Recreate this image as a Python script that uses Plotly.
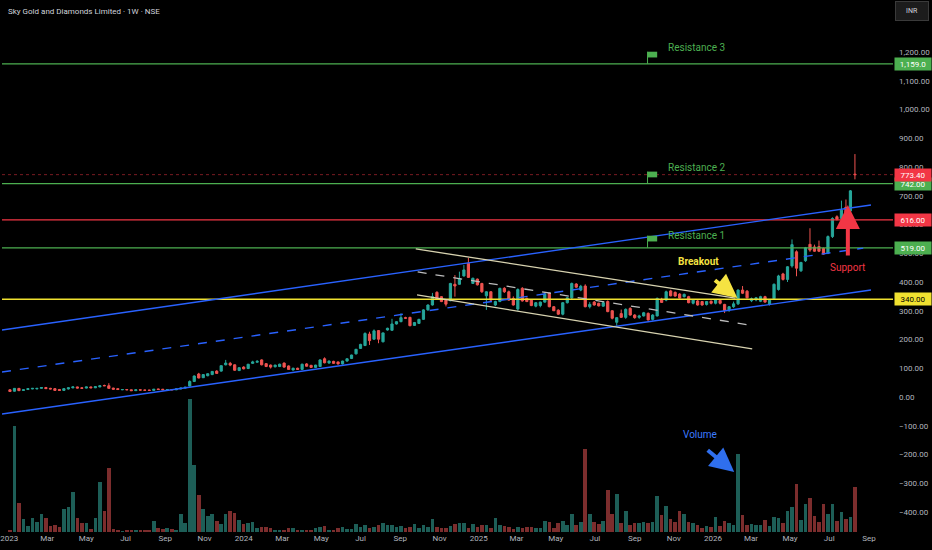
import pandas as pd
import plotly.graph_objects as go

# Sky Gold and Diamonds Limited, weekly bars (NSE)
first_week = "2023-01-02"

opens = [
    25, 20, 30, 23, 26, 28, 28, 30, 33, 30, 29, 26, 23, 28, 32, 35, 32, 31, 35, 32,
    35, 40, 39, 31, 29, 25, 26, 25, 22, 25, 24, 24, 23, 28, 27, 24, 26, 25, 28, 31,
    38, 54, 80, 67, 74, 78, 90, 90, 112, 117, 112, 92, 104, 99,
    117, 121, 129, 116, 111, 105, 106, 118, 108, 94, 100, 96, 115, 110, 103, 106,
    133, 118, 124, 122, 115, 125, 134, 150, 169, 179, 219, 201, 231, 192, 233, 232,
    254, 262, 276, 277, 249, 256, 270, 303, 320, 364, 349, 337, 335, 392, 392, 421,
    465, 395, 410, 395, 352, 366,
    320, 332, 378, 366, 343, 306, 378, 343, 337, 316, 318, 330, 360, 314, 302, 288,
    328, 345, 393, 372, 386, 314, 330, 326, 316, 332, 300, 260, 290, 277, 308, 285,
    277, 282, 291, 270, 282, 340, 337, 369, 364, 358, 349, 349, 326, 334, 332, 322,
    333, 326, 336, 322, 303, 314, 324, 372, 368, 335, 338, 333, 349, 322, 342, 374,
    428, 409, 456, 505, 439, 474, 531, 522, 523, 517, 500, 558, 627, 621, 660, 647,
    775,
]
highs = [
    27, 31, 31, 26, 30, 31, 31, 33, 35, 32, 31, 28, 30, 33, 36, 36, 34, 36, 36, 37,
    40, 43, 48, 32, 30, 27, 27, 26, 26, 26, 25, 25, 28, 29, 28, 27, 27, 29, 32, 35,
    58, 75, 84, 79, 82, 90, 93, 109, 129, 122, 113, 103, 107, 115,
    126, 128, 131, 118, 113, 112, 116, 120, 110, 102, 102, 116, 118, 112, 112, 131,
    138, 127, 126, 123, 126, 134, 147, 167, 185, 225, 227, 235, 233, 224, 241, 272,
    263, 291, 279, 279, 261, 272, 305, 322, 362, 368, 351, 339, 397, 424, 436, 459,
    484, 415, 412, 397, 368, 368,
    335, 380, 382, 370, 350, 378, 382, 346, 340, 330, 332, 362, 364, 316, 305, 330,
    348, 398, 396, 390, 392, 330, 334, 328, 330, 336, 302, 278, 304, 308, 312, 288,
    286, 296, 294, 288, 346, 345, 370, 373, 367, 361, 360, 352, 340, 337, 334, 334,
    336, 340, 338, 324, 316, 332, 374, 386, 372, 346, 348, 352, 352, 340, 395, 425,
    432, 455, 548, 510, 470, 522, 587, 530, 544, 520, 562, 625, 632, 683, 687, 720,
    845,
]
lows = [
    18, 19, 21, 22, 25, 27, 27, 29, 28, 27, 22, 22, 21, 26, 30, 30, 29, 30, 31, 31,
    34, 38, 29, 26, 25, 24, 24, 21, 22, 23, 23, 22, 22, 25, 24, 23, 24, 24, 27, 30,
    37, 52, 65, 66, 72, 76, 81, 88, 110, 107, 91, 90, 96, 97,
    115, 119, 110, 104, 99, 103, 104, 102, 95, 92, 94, 95, 106, 102, 101, 105,
    117, 116, 115, 113, 113, 123, 132, 148, 167, 177, 181, 199, 187, 190, 231, 230,
    252, 260, 272, 246, 247, 254, 268, 300, 318, 338, 330, 315, 333, 349, 390, 419,
    414, 393, 388, 362, 303, 334,
    316, 330, 362, 335, 318, 300, 332, 330, 316, 312, 312, 328, 312, 300, 286, 284,
    325, 340, 380, 368, 312, 308, 318, 315, 314, 295, 270, 248, 275, 272, 283, 272,
    272, 280, 266, 266, 280, 327, 333, 350, 349, 342, 346, 326, 322, 318, 318, 318,
    322, 322, 322, 292, 296, 310, 320, 358, 343, 330, 333, 330, 328, 318, 338, 370,
    405, 400, 450, 420, 435, 470, 505, 505, 504, 495, 497, 553, 614, 617, 636, 644,
    757,
]
closes = [
    19, 30, 22, 25, 29, 30, 30, 33, 29, 28, 23, 23, 29, 32, 35, 31, 30, 35, 32, 36,
    39, 39, 30, 27, 26, 26, 25, 22, 25, 24, 23.5, 23, 27, 26, 25, 26, 25, 28, 31, 34,
    54, 73, 66, 78, 81, 89, 82, 109, 118, 111, 93, 102, 98, 114,
    122, 124, 112, 106, 104, 111, 114, 104, 96, 100, 96, 114, 107, 103, 111, 129,
    119, 125, 117, 115, 125, 133, 146, 166, 183, 221, 196, 230, 201, 223, 239, 254,
    262, 276, 274, 248, 259, 270, 303, 320, 349, 340, 332, 323, 395, 386, 412, 442,
    416, 413, 390, 366, 366, 337,
    332, 378, 366, 337, 320, 374, 334, 332, 318, 328, 330, 358, 314, 300, 288, 328,
    345, 395, 382, 385, 314, 322, 320, 317, 328, 297, 274, 276, 277, 305, 285, 276,
    282, 293, 268, 285, 343, 329, 366, 352, 351, 344, 357, 328, 337, 320, 320, 332,
    326, 338, 326, 301, 314, 324, 372, 361, 345, 342, 345, 349, 330, 337, 392, 421,
    409, 453, 530, 448, 468, 519, 511, 507, 507, 497, 558, 621, 618, 650, 641, 717,
    773.4,
]
volumes = [
    7, 317, 87, 38, 19, 42, 29, 54, 41, 18, 20, 15, 70, 75, 121, 42, 26, 28, 8, 42,
    149, 62, 191, 8, 5, 3, 5, 7, 5, 7, 6, 7, 33, 12, 8, 12, 8, 5, 54, 27,
    400, 201, 112, 68, 47, 53, 32, 25, 55, 62, 57, 36, 24, 26, 31, 11, 15, 15, 11, 6,
    6, 7, 11, 11, 5, 7, 7, 5, 11, 16, 19, 6, 6, 11, 14, 8, 8, 24, 14, 20,
    11, 14, 22, 26, 22, 22, 14, 17, 11, 14, 25, 11, 22, 15, 38, 15, 11, 11, 17, 23,
    26, 28, 11, 23, 15, 22, 20, 11, 43, 22, 19, 14, 8, 15, 11, 16, 14, 12, 11, 32,
    29, 11, 26, 33, 20, 53, 20, 29, 250, 55, 29, 24, 32, 127, 53, 115, 26, 62, 22, 26,
    26, 31, 26, 29, 108, 50, 78, 38, 29, 64, 55, 29, 26, 22, 12, 17, 14, 45, 19, 34,
    26, 22, 235, 50, 22, 24, 20, 20, 37, 19, 45, 43, 27, 62, 76, 143, 35, 83, 103, 47,
    31, 83, 53, 85, 32, 59, 40, 45, 134,
]

month_ticks = pd.date_range("2023-01-01", "2026-09-01", freq="2MS")
month_labels = [str(d.year) if d.month == 1 else d.strftime("%b") for d in month_ticks]
price_ticks = list(range(-400, 1300, 100))
price_labels = [f"{v:,.2f}".replace("-", "\u2212") for v in price_ticks]

# horizontal levels drawn on the chart
levels = [1159.0, 742.0, 616.0, 519.0, 340.0]
level_colors = ["#4caf50", "#4caf50", "#f23645", "#4caf50", "#f0e130"]
level_text_colors = ["#ffffff", "#ffffff", "#ffffff", "#ffffff", "#000000"]
last_price = 773.40

UP, DOWN = "#26a69a", "#ef5350"
VOL_UP, VOL_DOWN = "#1d5e57", "#7c2d2d"
BLUE = "#2962ff"
BEIGE = "#d8d3b0"
FONT = "Roboto"

weeks = pd.date_range(first_week, periods=len(closes), freq="7D")
vol_colors = [VOL_UP if c >= o else VOL_DOWN for o, c in zip(opens, closes)]

day = pd.Timedelta(days=1)
x_start = weeks[0] - 12.4 * day
x_end = weeks[0] + 1375.3 * day

fig = go.Figure()
fig.add_trace(go.Candlestick(
    x=weeks, open=opens, high=highs, low=lows, close=closes,
    increasing=dict(line=dict(color=UP, width=1), fillcolor=UP),
    decreasing=dict(line=dict(color=DOWN, width=1), fillcolor=DOWN),
    showlegend=False,
))
fig.add_trace(go.Bar(
    x=weeks, y=volumes, yaxis="y2",
    marker=dict(color=vol_colors, line=dict(width=0)),
    width=5.6 * 86400000, showlegend=False,
))

shapes = []
# support / resistance levels
for lvl, col in zip(levels, level_colors):
    shapes.append(dict(type="line", xref="paper", x0=0, x1=1, y0=lvl, y1=lvl,
                       line=dict(color=col, width=1.6 if col == "#f0e130" else 1.3)))
shapes.append(dict(type="line", xref="paper", x0=0, x1=1, y0=last_price, y1=last_price,
                   line=dict(color="#f23645", width=1, dash="dot"), opacity=0.5))

# rising channel
s = str(x_start)
for (x0, y0, x1, y1, dash) in [
    (s, 233, "2026-09-04", 668, "solid"),
    (s, 87, "2026-08-23", 518, "dash"),
    (s, -59, "2026-09-04", 372, "solid"),
]:
    shapes.append(dict(type="line", x0=x0, y0=y0, x1=x1, y1=y1,
                       line=dict(color=BLUE, width=1.4, dash=dash)))

# falling channel
for (x0, y0, x1, y1, dash, col) in [
    ("2024-09-25", 515, "2026-02-05", 344, "solid", BEIGE),
    ("2024-09-27", 355, "2026-03-03", 167, "solid", BEIGE),
    ("2024-09-28", 435, "2026-02-28", 250, "dash", "#bdbdbd"),
]:
    shapes.append(dict(type="line", x0=x0, y0=y0, x1=x1, y1=y1,
                       line=dict(color=col, width=1.3, dash=dash)))

# little flags on the resistance lines
for lvl in [1159.0, 742.0, 519.0]:
    shapes.append(dict(type="line", x0="2025-09-21", x1="2025-09-21", y0=lvl, y1=lvl + 42,
                       line=dict(color="#4caf50", width=1)))
    shapes.append(dict(type="rect", x0="2025-09-21", x1="2025-10-06", y0=lvl + 22, y1=lvl + 42,
                       line=dict(width=0), fillcolor="#4caf50"))

annotations = [
    dict(xref="paper", yref="paper", x=0.005, y=0.979, xanchor="left", yanchor="middle",
         text="Sky Gold and Diamonds Limited \u00b7 1W \u00b7 NSE", showarrow=False,
         font=dict(family=FONT, size=8, color="#d1d4dc")),
    dict(xref="paper", yref="paper", x=1.0215, y=0.979, xanchor="center", yanchor="middle",
         text="INR", showarrow=False, bgcolor="#1c1c1c", bordercolor="#3a3a3a",
         borderwidth=1, borderpad=4, width=24, height=10,
         font=dict(family=FONT, size=7, color="#d1d4dc")),
]

for txt, y in [("Resistance 3", 1214), ("Resistance 2", 800), ("Resistance 1", 563)]:
    annotations.append(dict(x="2025-10-19", y=y, xanchor="left", yanchor="middle", text=txt,
                            showarrow=False, font=dict(family=FONT, size=10, color="#4caf50")))

annotations += [
    dict(x="2025-12-09", y=473, text="<b>Breakout</b>", showarrow=False,
         font=dict(family=FONT, size=10, color="#f5e342")),
    dict(x="2026-02-08", y=344, ax=-24, ay=-19, text="", showarrow=True, arrowhead=2,
         arrowsize=1.2, arrowwidth=4, arrowcolor="#f5e342"),
    dict(x="2026-07-30", y=449, text="Support", showarrow=False,
         font=dict(family=FONT, size=10, color="#f23645")),
    dict(x="2026-07-30", y=668, ax=0, ay=52, text="", showarrow=True, arrowhead=2,
         arrowsize=1.2, arrowwidth=4, arrowcolor="#f23645"),
    dict(x="2025-12-12", y=-132, text="Volume", showarrow=False,
         font=dict(family=FONT, size=10, color="#3d7bff")),
    dict(x="2026-02-03", y=-261, ax=-28, ay=-23, text="", showarrow=True, arrowhead=2,
         arrowsize=1.2, arrowwidth=4, arrowcolor="#2f6fee"),
]

# price tags on the right scale
for lvl, col, tcol in list(zip(levels, level_colors, level_text_colors)) + [(last_price, "#f23645", "#ffffff")]:
    label = f"{lvl:,.2f}" if lvl < 1000 else f"{lvl:,.1f}"
    annotations.append(dict(xref="paper", x=1, xanchor="left", xshift=1, y=lvl, yanchor="middle",
                            text=label, showarrow=False, bgcolor=col, width=34, height=10,
                            borderpad=1, font=dict(family=FONT, size=8, color=tcol)))

fig.update_layout(
    width=932, height=550,
    margin=dict(l=0, r=39, t=0, b=18),
    paper_bgcolor="#000000", plot_bgcolor="#000000",
    font=dict(family=FONT, color="#b2b5be"),
    showlegend=False,
    bargap=0,
    xaxis=dict(type="date", range=[x_start, x_end], tickvals=month_ticks, ticktext=month_labels,
               showgrid=False, zeroline=False, showline=False, ticks="",
               tickfont=dict(size=8, color="#b2b5be"), ticklabeloverflow="allow",
               rangeslider=dict(visible=False)),
    yaxis=dict(side="right", range=[-469.6, 1380.9], tickvals=price_ticks, ticktext=price_labels,
               showgrid=False, zeroline=False, showline=False, ticks="",
               ticklabelstandoff=5, tickfont=dict(size=8, color="#b2b5be")),
    yaxis2=dict(overlaying="y", range=[0, 1596], visible=False),
    shapes=shapes,
    annotations=annotations,
)

# the page itself should have no white border round the chart
fig.write_html("out.html", config={"displayModeBar": False},
               post_script="document.body.style.margin='0';")
